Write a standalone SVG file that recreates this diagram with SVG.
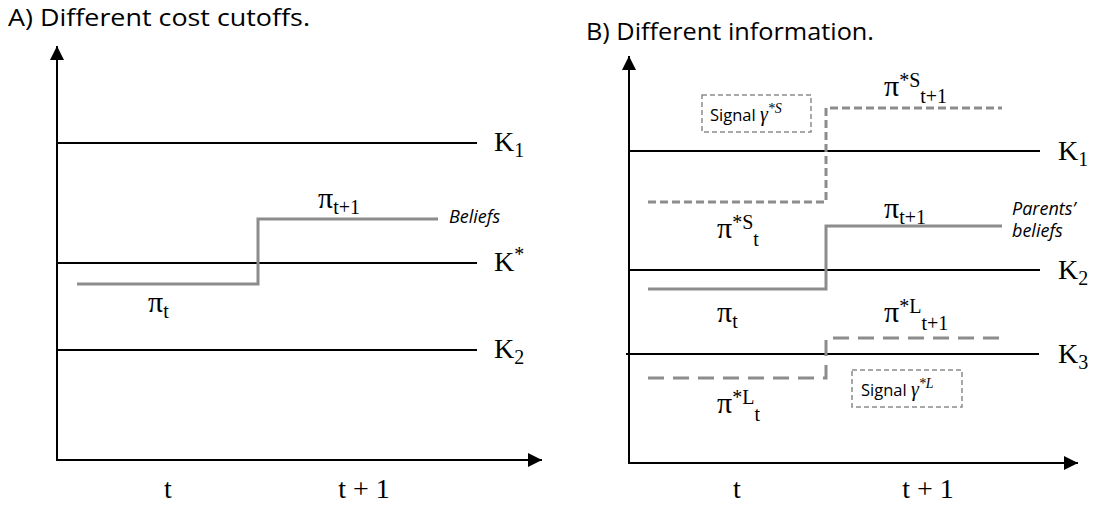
<svg xmlns="http://www.w3.org/2000/svg" width="1107" height="506" viewBox="0 0 1107 506">
<style>
.title{font-family:"Open Sans","Liberation Sans",sans-serif;font-size:23px;fill:#000}
.ax{stroke:#000;stroke-width:2;fill:none}
.k{stroke:#000;stroke-width:2;fill:none}
.g{stroke:#8c8c8c;stroke-width:3;fill:none}
.gs{stroke:#8c8c8c;stroke-width:3;fill:none;stroke-dasharray:8 4}
.gl{stroke:#8c8c8c;stroke-width:3;fill:none;stroke-dasharray:16 9}
.box{stroke:#8c8c8c;stroke-width:1.5;fill:#fff;stroke-dasharray:5 3}
.serif{font-family:"Liberation Serif","Times New Roman",serif;font-size:28px;fill:#000}
.pi{font-size:30px}
.sub{font-size:20px}
.note{font-family:"Open Sans","Liberation Sans",sans-serif;font-style:italic;font-size:18px;fill:#000}
.sig{font-family:"Open Sans","Liberation Sans",sans-serif;font-size:16.5px;fill:#000}
.gam{font-family:"Liberation Serif","Times New Roman",serif;font-style:italic;font-size:20px}
.gsup{font-family:"Liberation Serif","Times New Roman",serif;font-style:italic;font-size:14px}
</style>
<defs>
<marker id="arr" markerUnits="userSpaceOnUse" markerWidth="16" markerHeight="16" refX="14" refY="7" orient="auto">
<path d="M0,0 L14,7 L0,14 Z" fill="#000"/>
</marker>
</defs>

<g id="panelA">
<text class="title" x="8" y="26" textLength="302" lengthAdjust="spacingAndGlyphs">A) Different cost cutoffs.</text>
<g id="axesA">
<path class="ax" d="M57,461 L57,46" marker-end="url(#arr)"/>
<path class="ax" d="M56,460 L542,460" marker-end="url(#arr)"/>
</g>
<g id="A-K1"><line class="k" x1="57" y1="143" x2="477" y2="143"/><text class="serif" x="494" y="151">K<tspan class="sub" dy="6">1</tspan></text></g>
<g id="A-Kstar"><line class="k" x1="57" y1="263" x2="477" y2="263"/><text class="serif" x="494" y="271">K<tspan class="sub" dy="-10">*</tspan></text></g>
<g id="A-K2"><line class="k" x1="57" y1="350" x2="477" y2="350"/><text class="serif" x="494" y="358">K<tspan class="sub" dy="6">2</tspan></text></g>
<g id="A-beliefs">
<path class="g" d="M77,284 L258,284 L258,219 L438,219"/>
<text class="note" x="449" y="223">Beliefs</text>
<text class="serif" x="318" y="208"><tspan class="pi">π</tspan><tspan class="sub" dy="6">t+1</tspan></text>
<text class="serif" x="148" y="312"><tspan class="pi">π</tspan><tspan class="sub" dy="6">t</tspan></text>
</g>
<text class="serif" x="168" y="498" text-anchor="middle">t</text>
<text class="serif" x="364" y="498" text-anchor="middle">t + 1</text>
</g>

<g id="panelB">
<text class="title" x="586" y="40" textLength="288" lengthAdjust="spacingAndGlyphs">B) Different information.</text>
<g id="axesB">
<path class="ax" d="M629,464 L629,56" marker-end="url(#arr)"/>
<path class="ax" d="M628,463 L1078,463" marker-end="url(#arr)"/>
</g>
<g id="B-K1"><line class="k" x1="629" y1="151" x2="1040" y2="151"/><text class="serif" x="1058" y="160">K<tspan class="sub" dy="6">1</tspan></text></g>
<g id="B-K2"><line class="k" x1="629" y1="270" x2="1040" y2="270"/><text class="serif" x="1058" y="279">K<tspan class="sub" dy="6">2</tspan></text></g>
<g id="B-K3"><line class="k" x1="626" y1="354" x2="1039" y2="354"/><text class="serif" x="1058" y="363">K<tspan class="sub" dy="6">3</tspan></text></g>

<g id="B-signalS">
<path class="gs" d="M648,202 L826,202 L826,108 L1002,108"/>
<rect class="box" x="702" y="95" width="109" height="37"/>
<text class="sig" x="710" y="121">Signal <tspan class="gam">γ</tspan><tspan class="gsup" dy="-8">*S</tspan></text>
<text class="serif" x="884" y="96"><tspan class="pi">π</tspan><tspan class="sub" dy="-9">*S</tspan><tspan class="sub" dy="16">t+1</tspan></text>
<text class="serif" x="717" y="238"><tspan class="pi">π</tspan><tspan class="sub" dy="-9">*S</tspan><tspan class="sub" dy="17">t</tspan></text>
</g>

<g id="B-parents">
<path class="g" d="M648,289 L826,289 L826,226 L1002,226"/>
<text class="note" x="1012" y="215">Parents’</text>
<text class="note" x="1012" y="237">beliefs</text>
<text class="serif" x="884" y="218"><tspan class="pi">π</tspan><tspan class="sub" dy="6">t+1</tspan></text>
<text class="serif" x="717" y="322"><tspan class="pi">π</tspan><tspan class="sub" dy="6">t</tspan></text>
</g>

<g id="B-signalL">
<path class="gl" d="M648,378 L826,378 L826,338 L1002,338"/>
<rect class="box" x="852" y="370" width="110" height="37"/>
<text class="sig" x="861" y="396">Signal <tspan class="gam">γ</tspan><tspan class="gsup" dy="-8">*L</tspan></text>
<text class="serif" x="884" y="322"><tspan class="pi">π</tspan><tspan class="sub" dy="-9">*L</tspan><tspan class="sub" dy="17">t+1</tspan></text>
<text class="serif" x="717" y="413"><tspan class="pi">π</tspan><tspan class="sub" dy="-9">*L</tspan><tspan class="sub" dy="17">t</tspan></text>
</g>
<text class="serif" x="737" y="498" text-anchor="middle">t</text>
<text class="serif" x="928" y="498" text-anchor="middle">t + 1</text>
</g>
</svg>
